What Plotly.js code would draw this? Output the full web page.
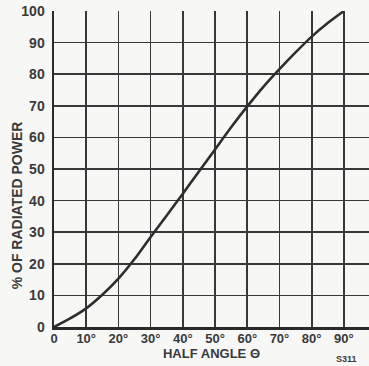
<!DOCTYPE html>
<html>
<head>
<meta charset="utf-8">
<script src="https://cdn.plot.ly/plotly-3.0.1.min.js"></script>
<style>html,body{margin:0;padding:0;background:#f7f7f5;}#chart{width:369px;height:366px;}</style>
</head>
<body>
<div id="chart"></div>
<script>
const halfAngle = [0, 5, 10, 15, 20, 25, 30, 35, 40, 45, 50, 55, 60, 65, 70, 75, 80, 85, 90];
const radiatedPower = [0, 2.7, 5.9, 10.2, 15.3, 21.5, 28.5, 35.3, 42.2, 49.2, 56.2, 63.2, 69.8, 76, 81.6, 86.9, 91.9, 96.2, 100];
const xTickVals = [0, 10, 20, 30, 40, 50, 60, 70, 80, 90];
const xTickText = ['0', '10°', '20°', '30°', '40°', '50°', '60°', '70°', '80°', '90°'];
const yTickVals = [0, 10, 20, 30, 40, 50, 60, 70, 80, 90, 100];

const fam = 'Liberation Sans, Arial, sans-serif';
const ink = '#3a3a3a';

Plotly.newPlot('chart', [{
  x: halfAngle, y: radiatedPower, type: 'scatter', mode: 'lines',
  line: {color: '#2e2e2e', width: 2.6, shape: 'spline', smoothing: 0.8},
  hoverinfo: 'skip'
}], {
  width: 369, height: 366,
  margin: {l: 54, r: 0, t: 11, b: 39},
  paper_bgcolor: '#f7f7f5', plot_bgcolor: '#f7f7f5',
  showlegend: false,
  font: {family: fam, color: ink, size: 13, weight: 'bold'},
  xaxis: {
    range: [0, 97.8], tickvals: xTickVals, ticktext: xTickText,
    showgrid: true, gridcolor: '#383838', gridwidth: 1.7,
    showline: true, linecolor: '#2a2a2a', linewidth: 2.5,
    zeroline: false, ticks: '', ticklen: 0, ticklabelstandoff: -2,
    tickfont: {family: fam, size: 13, color: ink, weight: 'bold'},
    title: {text: 'HALF ANGLE Θ', font: {family: fam, size: 13, color: ink, weight: 'bold'}, standoff: 1}
  },
  yaxis: {
    range: [0, 100], tickvals: yTickVals,
    showgrid: true, gridcolor: '#383838', gridwidth: 1.7,
    showline: true, linecolor: '#2a2a2a', linewidth: 2.5,
    zeroline: false, ticks: '', ticklen: 0, ticklabelstandoff: 4,
    tickfont: {family: fam, size: 14, color: ink, weight: 'bold'}
  },
  annotations: [{
    text: '% OF RADIATED POWER', xref: 'paper', yref: 'paper', x: 0, y: 0.385,
    xanchor: 'center', yanchor: 'middle', xshift: -37, textangle: -90,
    showarrow: false, font: {family: fam, size: 14, color: ink, weight: 'bold'}
  }, {
    text: 'S311', xref: 'paper', yref: 'paper', x: 0.93, y: -0.1, xanchor: 'center', yanchor: 'middle',
    showarrow: false, font: {family: fam, size: 9, color: ink, weight: 'bold'}
  }]
}, {displayModeBar: false, staticPlot: true});
</script>
</body>
</html>
